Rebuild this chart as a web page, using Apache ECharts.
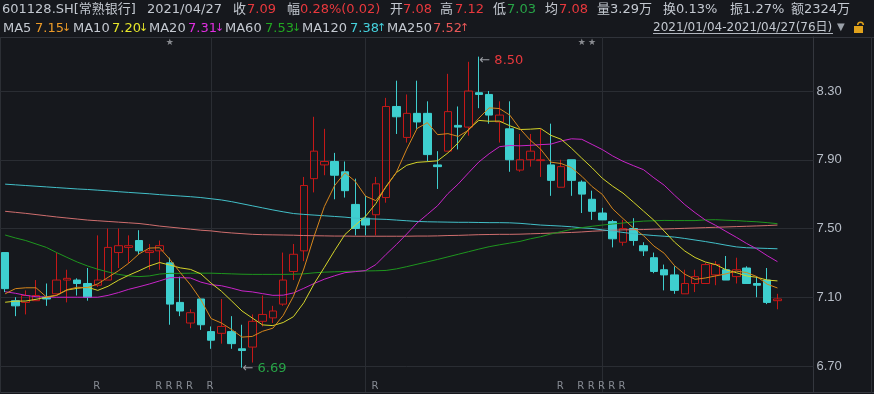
<!DOCTYPE html>
<html><head><meta charset="utf-8">
<script src="https://cdn.jsdelivr.net/npm/echarts@6/dist/echarts.min.js"></script>
<style>html,body{margin:0;padding:0;background:#16181d;}#c{width:874px;height:394px;}</style>
</head><body><div id="c"></div>
<script>
// ---- data ----
const dates = ['01/04','01/05','01/06','01/07','01/08','01/11','01/12','01/13','01/14','01/15','01/18','01/19','01/20','01/21','01/22','01/25','01/26','01/27','01/28','01/29',
'02/01','02/02','02/03','02/04','02/05','02/08','02/09','02/10','02/18','02/19','02/22','02/23','02/24','02/25','02/26',
'03/01','03/02','03/03','03/04','03/05','03/08','03/09','03/10','03/11','03/12','03/15','03/16','03/17','03/18','03/19','03/22','03/23','03/24','03/25','03/26','03/29','03/30','03/31',
'04/01','04/02','04/06','04/07','04/08','04/09','04/12','04/13','04/14','04/15','04/16','04/19','04/20','04/21','04/22','04/23','04/26','04/27'];
const padCats = ['x1','x2','x3'];
const opens = [7.36,7.08,7.07,7.08,7.10,7.12,7.20,7.20,7.18,7.17, 7.20,7.36,7.39,7.43,7.36,7.37,7.30,7.07,6.95,7.09,
6.90,6.89,6.90,6.80,6.81,6.96,6.98,7.06,7.25,7.37, 7.79,7.87,7.89,7.83,7.64,7.56,7.58,7.68,8.21,8.03,
8.17,8.17,7.87,7.95,8.10,8.09,8.29,8.28,8.12,8.08, 7.84,7.90,7.895,7.87,7.74,7.90,7.77,7.67,7.59,7.54,
7.42,7.50,7.40,7.33,7.26,7.23,7.12,7.18,7.18,7.23, 7.26,7.22,7.27,7.18,7.20,7.08];
const closes = [7.15,7.05,7.11,7.11,7.09,7.20,7.21,7.18,7.10,7.20, 7.39,7.40,7.40,7.37,7.37,7.40,7.06,7.02,7.01,6.94,
6.85,6.93,6.83,6.79,6.96,7.00,7.02,7.20,7.35,7.75, 7.95,7.89,7.81,7.72,7.50,7.52,7.76,8.21,8.15,8.17,
8.12,7.93,7.86,8.18,8.09,8.30,8.28,8.16,8.16,7.90, 7.90,7.95,7.90,7.78,7.86,7.78,7.70,7.60,7.55,7.44,
7.50,7.43,7.37,7.25,7.23,7.14,7.18,7.22,7.29,7.29, 7.20,7.26,7.18,7.17,7.07,7.09];
const lows = [7.13,6.99,7.00,7.08,7.05,7.12,7.07,7.11,7.08,7.16, 7.20,7.27,7.30,7.35,7.26,7.26,6.94,6.99,6.92,6.91,
6.80,6.83,6.80,6.69,6.72,6.93,6.95,7.05,7.20,7.31, 7.71,7.81,7.67,7.68,7.46,7.46,7.46,7.65,8.05,8.00,
8.08,7.89,7.73,7.95,7.96,8.04,8.20,8.11,8.00,7.83, 7.83,7.86,7.80,7.69,7.74,7.69,7.59,7.55,7.55,7.39,
7.40,7.40,7.34,7.24,7.14,7.12,7.12,7.13,7.18,7.17, 7.20,7.18,7.18,7.10,7.06,7.03];
const highs = [7.36,7.10,7.14,7.20,7.18,7.36,7.26,7.21,7.27,7.46, 7.50,7.50,7.46,7.49,7.41,7.43,7.33,7.22,7.03,7.09,
6.93,7.09,6.99,6.94,7.00,7.11,7.05,7.36,7.41,7.80, 8.15,8.08,7.94,7.89,7.79,7.69,7.80,8.26,8.36,8.28,
8.36,8.24,7.95,8.40,8.21,8.47,8.50,8.30,8.24,8.24, 8.05,8.05,8.08,8.11,7.90,7.90,7.78,7.72,7.62,7.55,
7.55,7.56,7.42,7.36,7.29,7.28,7.26,7.26,7.30,7.31, 7.34,7.33,7.28,7.22,7.27,7.12];
const ma5 = [7.12,7.15,7.155,7.155,7.102,7.112,7.144,7.158,7.156,7.178, 7.216,7.254,7.298,7.352,7.386,7.388,7.32,7.244,7.172,7.086,
6.976,6.95,6.912,6.868,6.872,6.902,6.92,6.994,7.106,7.264, 7.454,7.628,7.75,7.824,7.774,7.688,7.662,7.742,7.828,7.962,
8.082,8.116,8.046,8.052,8.036,8.072,8.142,8.202,8.198,8.16, 8.08,8.014,7.962,7.886,7.878,7.854,7.804,7.744,7.698,7.614,
7.558,7.504,7.458,7.398,7.356,7.284,7.234,7.204,7.212,7.224, 7.236,7.252,7.244,7.22,7.176,7.154];
const ma10 = [7.071,7.077,7.078,7.088,7.10,7.111,7.142,7.152,7.158,7.14, 7.164,7.199,7.228,7.254,7.282,7.302,7.287,7.271,7.262,7.236,
7.182,7.135,7.078,7.02,6.979,6.939,6.935,6.953,6.987,7.068, 7.178,7.274,7.372,7.465,7.519,7.571,7.645,7.746,7.826,7.868,
7.885,7.889,7.894,7.94,7.999,8.077,8.129,8.124,8.125,8.098, 8.076,8.078,8.082,8.042,8.019,7.967,7.909,7.853,7.792,7.746,
7.706,7.654,7.601,7.548,7.485,7.421,7.369,7.331,7.305,7.29, 7.26,7.243,7.224,7.216,7.20,7.195];
const ma20 = [7.132,7.123,7.111,7.103,7.101,7.10,7.10,7.10,7.10,7.10, 7.111,7.127,7.146,7.161,7.177,7.195,7.214,7.214,7.212,7.188,
7.173,7.167,7.153,7.137,7.131,7.121,7.111,7.112,7.125,7.152, 7.18,7.205,7.225,7.243,7.249,7.255,7.29,7.35,7.407,7.468,
7.532,7.582,7.633,7.703,7.759,7.824,7.887,7.935,7.976,7.983, 7.981,7.984,7.988,7.991,8.009,8.022,8.019,7.989,7.959,7.922,
7.891,7.866,7.842,7.795,7.752,7.694,7.639,7.592,7.549,7.518, 7.483,7.449,7.413,7.381,7.342,7.307];
const ma60 = [7.462,7.445,7.43,7.41,7.39,7.36,7.332,7.305,7.282,7.263, 7.247,7.233,7.224,7.22,7.224,7.235,7.239,7.239,7.24,7.24,
7.24,7.238,7.236,7.234,7.233,7.233,7.233,7.233,7.234,7.236, 7.242,7.246,7.248,7.25,7.252,7.253,7.254,7.256,7.265,7.278,
7.292,7.306,7.32,7.335,7.35,7.365,7.38,7.394,7.405,7.415, 7.425,7.44,7.452,7.468,7.482,7.495,7.505,7.513,7.52,7.526,
7.532,7.538,7.543,7.545,7.547,7.546,7.546,7.546,7.55,7.551, 7.548,7.546,7.542,7.539,7.534,7.528];
const ma120 = [7.758,7.754,7.75,7.746,7.742,7.738,7.734,7.73,7.727,7.723, 7.719,7.714,7.71,7.706,7.702,7.697,7.693,7.689,7.685,7.68,
7.673,7.666,7.656,7.644,7.632,7.62,7.608,7.597,7.587,7.582, 7.578,7.574,7.57,7.566,7.56,7.557,7.555,7.553,7.549,7.545,
7.541,7.539,7.538,7.537,7.536,7.536,7.535,7.534,7.534,7.533, 7.53,7.525,7.52,7.517,7.514,7.51,7.504,7.50,7.492,7.485,
7.477,7.47,7.464,7.459,7.455,7.45,7.442,7.433,7.424,7.414, 7.403,7.393,7.388,7.386,7.384,7.382];
const ma250 = [7.60,7.594,7.588,7.581,7.574,7.567,7.561,7.555,7.549,7.545, 7.541,7.537,7.533,7.529,7.522,7.514,7.508,7.502,7.496,7.49,
7.486,7.479,7.474,7.47,7.466,7.464,7.463,7.462,7.461,7.459, 7.458,7.457,7.456,7.456,7.455,7.455,7.455,7.455,7.455,7.455,
7.456,7.456,7.457,7.459,7.46,7.462,7.464,7.465,7.466,7.466, 7.467,7.469,7.471,7.473,7.475,7.477,7.48,7.484,7.487,7.49,
7.492,7.493,7.494,7.496,7.497,7.499,7.501,7.503,7.505,7.507, 7.509,7.511,7.513,7.515,7.517,7.52];
const yTicks = [6.70, 7.10, 7.50, 7.90, 8.30];
const monthStarts = ['02/01','03/01','04/01'];
const starDays = ['01/26','03/30','03/31'];
const rDays = ['01/15','01/25','01/26','01/27','01/28','02/01','03/02','03/26','03/30','03/31','04/01','04/02','04/06'];
const highMark = ['03/16', 8.50];
const lowMark = ['02/04', 6.69];
const maNames = ['MA5','MA10','MA20','MA60','MA120','MA250'];
const maLastVal = ['7.15','7.20','7.31','7.53','7.38','7.52'];
const maLastDir = ['↓','↓','↓','↓','↑','↑'];
const quote = {code:'601128.SH[常熟银行]', date:'2021/04/27', close:'7.09', chg:'0.28%(0.02)', open:'7.08', high:'7.12', low:'7.03', avg:'7.08', vol:'3.29万', turn:'0.13%', amp:'1.27%', amt:'2324万', range:'2021/01/04-2021/04/27(76日)'};

// ---- styling ----
const BG = '#16181d', GRID = '#2a2d33', TXT = '#c3c8d0', RED = '#e8383d', GREEN = '#27a447';
const maColors = ['#d6861c','#d4d42a','#c824c8','#1e961e','#42bfc8','#cf6e6e'];
const maTextColors = ['#eb9a28','#e6e62a','#e02ee0','#22a622','#45d0dc','#e85858'];
const Y_MIN = 6.5487, Y_MAX = 8.6142;
const F13 = '13px "DejaVu Sans", "Noto Sans CJK SC"';

const chart = echarts.init(document.getElementById('c'), null, {renderer:'canvas'});
const cats = dates.concat(padCats);
const candle = dates.map((d,i)=>[opens[i], closes[i], lows[i], highs[i]]);

function txt(x, y, s, c, font, align){ return {type:'text', silent:true, style:{text:s, x:x, y:y, fill:c, font:font||F13, verticalAlign:'middle', align:align||'left'}}; }
const g = [];
// header row 1
const r1 = 9.5;
g.push(txt(2, r1, quote.code, TXT));
g.push(txt(147, r1, quote.date, TXT));
g.push(txt(233, r1, '收', TXT)); g.push(txt(247, r1, quote.close, RED));
g.push(txt(287, r1, '幅', TXT)); g.push(txt(300, r1, quote.chg, RED));
g.push(txt(390, r1, '开', TXT)); g.push(txt(403, r1, quote.open, RED));
g.push(txt(440, r1, '高', TXT)); g.push(txt(455, r1, quote.high, RED));
g.push(txt(493, r1, '低', TXT)); g.push(txt(507, r1, quote.low, GREEN));
g.push(txt(545, r1, '均', TXT)); g.push(txt(559, r1, quote.avg, RED));
g.push(txt(597, r1, '量' + quote.vol, TXT));
g.push(txt(663, r1, '换' + quote.turn, TXT));
g.push(txt(730, r1, '振' + quote.amp, TXT));
g.push(txt(791, r1, '额' + quote.amt, TXT));
// header row 2
const r2 = 28.5;
const maX = [[3,35],[73,112],[149,188],[225,265],[302,350],[387,433]];
maNames.forEach((n,k)=>{
  g.push(txt(maX[k][0], r2, n, TXT));
  g.push(txt(maX[k][1], r2, maLastVal[k], maTextColors[k]));
  g.push(txt(maX[k][1] + 31.5, r2, maLastDir[k], maTextColors[k], '11px "DejaVu Sans"', 'center'));
});
g.push(txt(653, r2 - 1, quote.range, TXT, '12px "DejaVu Sans", "Noto Sans CJK SC"'));
g.push({type:'line', silent:true, shape:{x1:653, y1:33.5, x2:833, y2:33.5}, style:{stroke:'#b0b5bd', lineWidth:1}});
g.push(txt(837, r2 - 1, '▼', '#9aa0a8', '10px "DejaVu Sans"'));
g.push({type:'rect', silent:true, shape:{x:854, y:26, width:9, height:7}, style:{fill:'#e0a21c'}});
g.push({type:'arc', silent:true, shape:{cx:860.5, cy:25, r:2.8, startAngle:Math.PI, endAngle:Math.PI*2}, style:{stroke:'#e0a21c', lineWidth:1.5, fill:null}});
// frame
g.push({type:'line', silent:true, shape:{x1:0, y1:37.5, x2:874, y2:37.5}, style:{stroke:'#30333a', lineWidth:1}});
g.push({type:'line', silent:true, shape:{x1:0, y1:392.5, x2:874, y2:392.5}, style:{stroke:'#34373e', lineWidth:1}});
g.push({type:'line', silent:true, shape:{x1:0.5, y1:37, x2:0.5, y2:393}, style:{stroke:'#2c2f35', lineWidth:1}});
g.push({type:'line', silent:true, shape:{x1:871.5, y1:37, x2:871.5, y2:393}, style:{stroke:'#2c2f35', lineWidth:1}});

const series = [];
// gridlines (behind)
series.push({
  type:'line', data: closes, silent:true, symbol:'none', lineStyle:{opacity:0}, z:1,
  markLine:{
    silent:true, symbol:['none','none'], z:1, animation:false,
    label:{show:false},
    lineStyle:{color:GRID, width:1, type:'solid'},
    emphasis:{disabled:true},
    data: yTicks.map(v=>({yAxis:v})).concat(monthStarts.map(d=>({xAxis:d})))
  }
});
series.push({
  type:'candlestick', data: candle, barWidth: 8, z:3,
  itemStyle:{color:'rgba(0,0,0,0)', color0:'#3ecfcf', borderColor:'#c41818', borderColor0:'#3ecfcf', borderWidth:1},
  markPoint:{
    symbol:'circle', symbolSize:1, itemStyle:{color:'rgba(0,0,0,0)'}, silent:true, animation:false,
    label:{show:true, position:'right', distance:0,
      rich:{a:{color:'#9b9ea5', fontSize:13, fontFamily:'DejaVu Sans'}, b:{color:RED, fontSize:13, fontFamily:'DejaVu Sans'}, c:{color:GREEN, fontSize:13, fontFamily:'DejaVu Sans'}}},
    data:[
      {coord: highMark, label:{formatter:'{a|← }{b|' + highMark[1].toFixed(2) + '}', offset:[0,4]}},
      {coord: lowMark, label:{formatter:'{a|← }{c|' + lowMark[1].toFixed(2) + '}', offset:[0,1]}}
    ]
  }
});
const mas = [ma5, ma10, ma20, ma60, ma120, ma250];
[5,4,3,2,1,0].forEach(k=>{
  series.push({type:'line', name:maNames[k], data:mas[k], symbol:'none', smooth:false, silent:true, z:4,
    lineStyle:{color:maColors[k], width:1}});
});
series.push({type:'scatter', data: starDays.map(d=>[d, 8.581]), symbol:'circle', symbolSize:1, itemStyle:{color:'rgba(0,0,0,0)'}, silent:true, z:5,
  label:{show:true, position:'inside', formatter:'★', color:'#a6a9ae', fontSize:9, fontFamily:'DejaVu Sans'}});
series.push({type:'scatter', data: rDays.map(d=>[d, 6.5837]), symbol:'circle', symbolSize:1, itemStyle:{color:'rgba(0,0,0,0)'}, silent:true, z:5,
  label:{show:true, position:'inside', formatter:'R', color:'#a2a7b0', fontSize:10, fontFamily:'DejaVu Sans', offset:[-1,0]}});

chart.setOption({
  backgroundColor: BG,
  animation:false,
  grid:{left:0, right:60.5, top:37, bottom:2},
  xAxis:{type:'category', data:cats, boundaryGap:true, axisLine:{show:false}, axisTick:{show:false}, axisLabel:{show:false}, splitLine:{show:false}},
  yAxis:{type:'value', position:'right', min:Y_MIN, max:Y_MAX,
    axisLine:{show:true, lineStyle:{color:'#34373e'}}, axisTick:{show:false}, splitLine:{show:false},
    axisLabel:{customValues:yTicks, formatter:v=>v.toFixed(2), color:'#b7bdc7', fontSize:13, fontFamily:'Liberation Sans', margin:3}},
  graphic: g,
  series: series
});
</script></body></html>
